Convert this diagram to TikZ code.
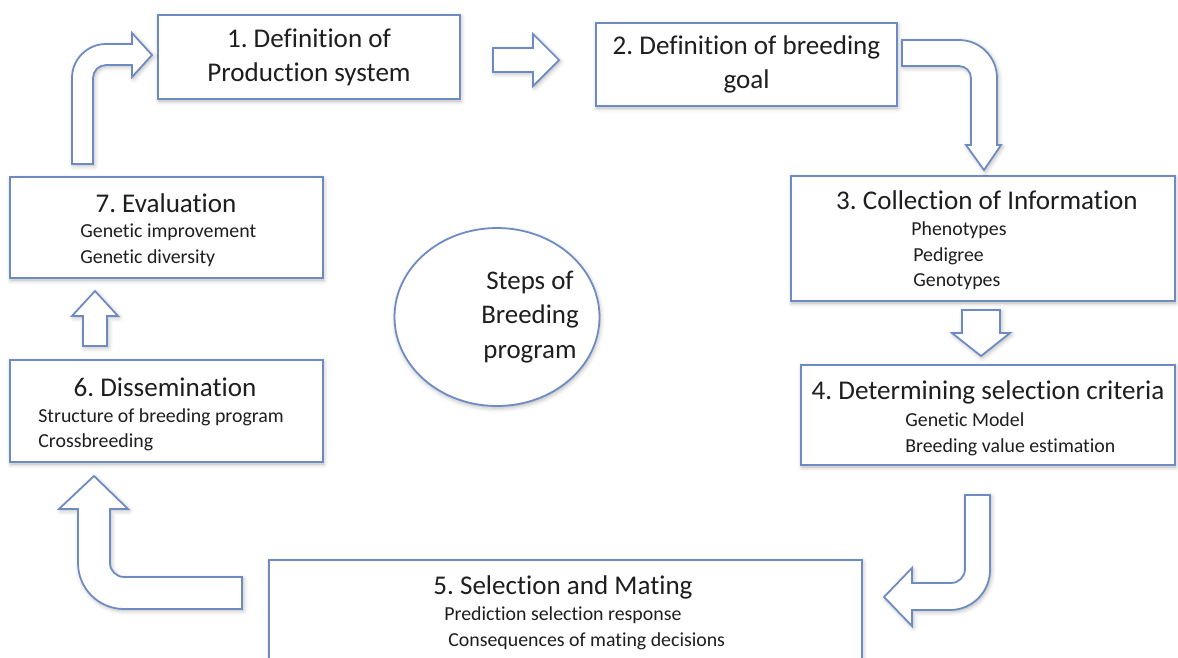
\documentclass[tikz,border=0pt]{standalone}
\usepackage{fontspec}
\setmainfont{Carlito}[Ligatures=NoCommon]
\usepackage{tikz}
\usetikzlibrary{shapes.geometric,shadows.blur}
\frenchspacing

\definecolor{stepblue}{RGB}{110,138,194}
\definecolor{steptext}{RGB}{30,30,30}

\begin{document}
\begin{tikzpicture}[x=0.02cm, y=-0.02cm,
    stepbox/.style={draw=stepblue, line width=1.1pt, fill=white, inner sep=0pt, outer sep=0pt,
        blur shadow={shadow xshift=0.5pt, shadow yshift=-1.2pt, shadow opacity=30, shadow blur radius=2.5pt}},
    steparrow/.style={draw=stepblue, line width=1pt, fill=white, line join=miter,
        blur shadow={shadow xshift=0.8pt, shadow yshift=-1pt, shadow opacity=30, shadow blur radius=2.5pt}},
    steptitle/.style={text=steptext, font=\fontsize{15.4}{19.5}\selectfont, align=center, inner sep=0pt},
    stepitem/.style={text=steptext, font=\fontsize{11.3}{14.8}\selectfont, anchor=west, inner sep=0pt}]
    \useasboundingbox (0,0) rectangle (1178,657);

    % Boxes
    \node[stepbox, steptitle, minimum width=6.04cm, minimum height=1.68cm] (prod) at (309,57)
        {1. Definition of\\Production system};
    \node[stepbox, steptitle, minimum width=6.02cm, minimum height=1.66cm] (goal) at (746.5,64.5)
        {2. Definition of breeding\\goal};
    \node[stepbox, minimum width=7.68cm, minimum height=2.5cm] (info) at (983,238.5) {};
    \node[stepbox, minimum width=7.48cm, minimum height=2.0cm] (crit) at (988,415) {};
    \node[stepbox, minimum width=11.86cm, minimum height=2.6cm] (mate) at (565.5,625) {};
    \node[stepbox, minimum width=6.26cm, minimum height=2.04cm] (diss) at (166.5,411) {};
    \node[stepbox, minimum width=6.26cm, minimum height=2.02cm] (eval) at (166.5,227.5) {};
    \node[stepbox, ellipse, line width=1pt, minimum width=4.1cm, minimum height=3.56cm] (hub) at (497,317) {};

    % Texts
    \node[steptitle] (infot) at (987,200) {3. Collection of Information};
    \node[stepitem] (pheno) at (911,230) {Phenotypes};
    \node[stepitem] (pedi) at (913,256) {Pedigree};
    \node[stepitem] (geno) at (913,282) {Genotypes};

    \node[steptitle] (critt) at (988,392) {4. Determining selection criteria};
    \node[stepitem] (model) at (905,420) {Genetic Model};
    \node[stepitem] (bve) at (905,447) {Breeding value estimation};

    \node[steptitle] (matet) at (563,587) {5. Selection and Mating};
    \node[stepitem] (resp) at (444,615) {Prediction selection response};
    \node[stepitem] (cons) at (448,641) {Consequences of mating decisions};

    \node[steptitle] (disst) at (165,387) {6. Dissemination};
    \node[stepitem] (struc) at (38,417) {Structure of breeding program};
    \node[stepitem] (cross) at (38,442) {Crossbreeding};

    \node[steptitle] (evalt) at (166,203) {7. Evaluation};
    \node[stepitem] (gimp) at (80,232) {Genetic improvement};
    \node[stepitem] (gdiv) at (80,258) {Genetic diversity};

    \node[steptitle, font=\fontsize{15.3}{19.8}\selectfont] (hubt) at (530,317) {Steps of\\Breeding\\program};

    % Arrows
    \draw[steparrow] (493,48) -- (533,48) -- (533,34) -- (559,60) -- (533,86) -- (533,72) -- (493,72) -- cycle; % 1 to 2
    \draw[steparrow] (902,40) -- (959,40) arc[start angle=270, end angle=360, radius=38] -- (997,145)
        -- (1001,145) -- (984,170) -- (966,145) -- (971,145) -- (971,78)
        arc[start angle=0, end angle=-90, radius=12] -- (902,66) -- cycle; % 2 to 3
    \draw[steparrow] (962,310) -- (1000,310) -- (1000,333) -- (1010,333) -- (981,356) -- (952,333)
        -- (962,333) -- cycle; % 3 to 4
    \draw[steparrow] (965,495) -- (990,495) -- (990,570) arc[start angle=0, end angle=90, radius=40]
        -- (912,610) -- (912,626) -- (884,597) -- (912,568) -- (912,583) -- (951,583)
        arc[start angle=90, end angle=0, radius=14] -- cycle; % 4 to 5
    \draw[steparrow] (242,577) -- (242,609) -- (124,609) arc[start angle=90, end angle=180, radius=46]
        -- (78,509) -- (59,509) -- (94,476) -- (128,509) -- (110,509) -- (110,563)
        arc[start angle=180, end angle=90, radius=14] -- cycle; % 5 to 6
    \draw[steparrow] (83,346) -- (83,316) -- (72,316) -- (95,291) -- (118,316) -- (107,316)
        -- (107,346) -- cycle; % 6 to 7
    \draw[steparrow] (72,164) -- (72,78) arc[start angle=180, end angle=270, radius=34] -- (132,44)
        -- (132,33) -- (152,55) -- (132,77) -- (132,65) -- (106,65)
        arc[start angle=270, end angle=180, radius=13] -- (93,164) -- cycle; % 7 to 1

\end{tikzpicture}
\end{document}
